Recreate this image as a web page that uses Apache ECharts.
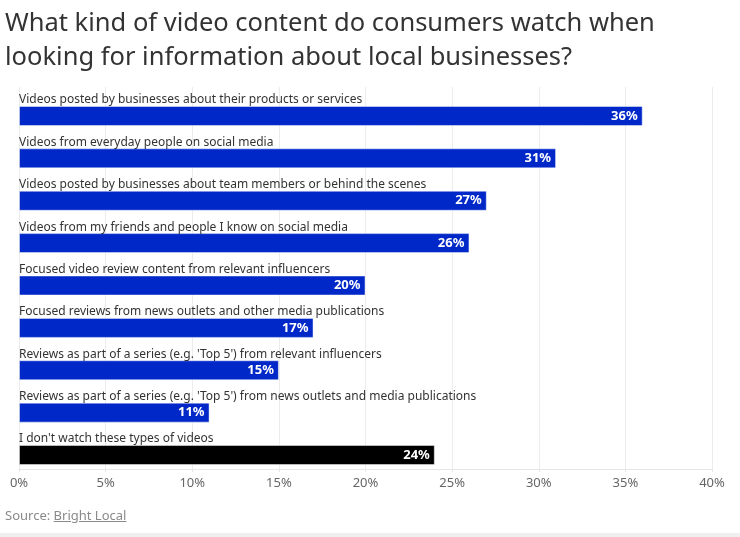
<!DOCTYPE html>
<html>
<head>
<meta charset="utf-8">
<script src="https://cdn.jsdelivr.net/npm/echarts@6/dist/echarts.min.js"></script>
<style>
html,body{margin:0;padding:0;background:#fff;}
#chart{position:absolute;left:0;top:0;width:740px;height:537px;}
#source{position:absolute;left:5px;top:506px;font-family:"Noto Sans",sans-serif;font-size:13px;color:#8a8a8a;}
#source a{color:#8a8a8a;text-decoration:underline;}
#strip{position:absolute;left:0;top:533px;width:740px;height:4px;background:#efefef;}
</style>
</head>
<body>
<div id="chart"></div>
<div id="source">Source: <a>Bright Local</a></div>
<div id="strip"></div>
<script>
const titleText = "What kind of video content do consumers watch when\nlooking for information about local businesses?";
const categories = [
  "Videos posted by businesses about their products or services",
  "Videos from everyday people on social media",
  "Videos posted by businesses about team members or behind the scenes",
  "Videos from my friends and people I know on social media",
  "Focused video review content from relevant influencers",
  "Focused reviews from news outlets and other media publications",
  "Reviews as part of a series (e.g. 'Top 5') from relevant influencers",
  "Reviews as part of a series (e.g. 'Top 5') from news outlets and media publications",
  "I don't watch these types of videos"
];
const values = [36, 31, 27, 26, 20, 17, 15, 11, 24];
const barColors = ["#0028c8","#0028c8","#0028c8","#0028c8","#0028c8","#0028c8","#0028c8","#0028c8","#000000"];
const xTicks = [0, 5, 10, 15, 20, 25, 30, 35, 40];

const FONT = "Noto Sans";
const chart = echarts.init(document.getElementById('chart'), null, {renderer: 'canvas'});
const option = {
  animation: false,
  title: {
    text: titleText,
    left: 5, top: 7, padding: 0,
    textStyle: {fontFamily: FONT, fontSize: 25.5, fontWeight: 'normal', color: '#333', lineHeight: 34}
  },
  grid: [
    {left: 19, right: 28, top: 87, bottom: 68},
    {left: 19, right: 28, top: 94.8, bottom: 537 - 476.2}
  ],
  xAxis: [
    {
      type: 'value', gridIndex: 0, min: xTicks[0], max: xTicks[xTicks.length-1], interval: 5,
      axisLine: {show: true, lineStyle: {color: '#e6e6e6'}},
      axisTick: {show: true, length: 3, lineStyle: {color: '#e6e6e6'}},
      splitLine: {show: true, lineStyle: {color: '#ececec'}},
      axisLabel: {formatter: v => v + '%', fontFamily: FONT, fontSize: 13, color: '#666', margin: 8}
    },
    {
      type: 'value', gridIndex: 1, min: xTicks[0], max: xTicks[xTicks.length-1],
      show: false
    }
  ],
  yAxis: [
    {type: 'value', gridIndex: 0, show: false},
    {type: 'category', gridIndex: 1, data: categories, inverse: true, show: false}
  ],
  series: [
    {
      type: 'bar', xAxisIndex: 1, yAxisIndex: 1,
      barWidth: 20,
      data: values.map((v, i) => ({value: v, itemStyle: {color: barColors[i]}})),
      itemStyle: {borderColor: 'rgba(255,255,255,0.45)', borderWidth: 1},
      label: {
        show: true, position: 'insideRight', distance: 5,
        formatter: p => p.value + '%',
        fontFamily: FONT, fontSize: 13, fontWeight: 'bold', color: '#fff'
      }
    },
    {
      type: 'bar', xAxisIndex: 1, yAxisIndex: 1,
      barWidth: 20, barGap: '-100%',
      data: values,
      itemStyle: {color: 'rgba(0,0,0,0)'},
      silent: true,
      label: {
        show: true, position: [0, -6], align: 'left', verticalAlign: 'middle',
        formatter: p => categories[p.dataIndex],
        fontFamily: FONT, fontSize: 12, color: '#333'
      }
    }
  ]
};
chart.setOption(option);
</script>
</body>
</html>
